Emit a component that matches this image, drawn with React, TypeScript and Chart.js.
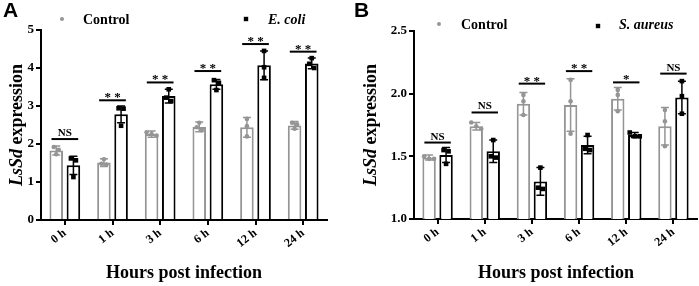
import React, { useEffect, useRef } from "react";
import { Chart, registerables } from "chart.js";
Chart.register(...registerables);

const categories = ["0 h", "1 h", "3 h", "6 h", "12 h", "24 h"];

// Panel A: Control vs E. coli
const aControlMean = [1.83, 1.51, 2.26, 2.45, 2.44, 2.49];
const aControlSD = [0.12, 0.1, 0.08, 0.13, 0.26, 0.1];
const aControlPoints = [
  [1.92, 1.85, 1.73],
  [1.6, 1.46, 1.48],
  [2.31, 2.22, 2.26],
  [2.56, 2.36, 2.44],
  [2.66, 2.2, 2.47],
  [2.56, 2.4, 2.52],
];
const aEcoliMean = [1.44, 2.78, 3.26, 3.57, 4.07, 4.12];
const aEcoliSD = [0.24, 0.22, 0.18, 0.13, 0.38, 0.14];
const aEcoliPoints = [
  [1.62, 1.13, 1.57],
  [2.93, 2.48, 2.94],
  [3.44, 3.13, 3.22],
  [3.68, 3.42, 3.61],
  [4.45, 3.74, 4.02],
  [4.26, 4.0, 4.11],
];
const aSig = ["NS", "**", "**", "**", "**", "**"];
const aSigY = [2.13, 3.15, 3.62, 3.92, 4.63, 4.43];

// Panel B: Control vs S. aureus
const bControlMean = [1.49, 1.74, 1.92, 1.91, 1.96, 1.74];
const bControlSD = [0.02, 0.03, 0.09, 0.21, 0.09, 0.15];
const bControlPoints = [
  [1.5, 1.48, 1.48],
  [1.77, 1.72, 1.74],
  [1.99, 1.83, 1.94],
  [2.11, 1.94, 1.68],
  [2.03, 1.99, 1.86],
  [1.87, 1.78, 1.58],
];
const bSaureusMean = [1.51, 1.54, 1.3, 1.59, 1.67, 1.97];
const bSaureusSD = [0.06, 0.09, 0.11, 0.07, 0.02, 0.13];
const bSaureusPoints = [
  [1.55, 1.54, 1.44],
  [1.63, 1.5, 1.49],
  [1.41, 1.25, 1.24],
  [1.67, 1.55, 1.56],
  [1.69, 1.66, 1.66],
  [2.1, 1.98, 1.84],
];
const bSig = ["NS", "NS", "**", "**", "*", "NS"];
const bSigY = [1.61, 1.85, 2.08, 2.18, 2.09, 2.16];

const GRAY = "#959595";
const BLACK = "#000000";
const SERIF = "'Liberation Serif', 'Times New Roman', serif";
const SANS = "'Liberation Sans', Arial, sans-serif";

type Spec = {
  letter: string;
  treatName: string;
  cMean: number[];
  cSD: number[];
  cPts: number[][];
  tMean: number[];
  tSD: number[];
  tPts: number[][];
  sig: string[];
  sigY: number[];
  yMin: number;
  yMax: number;
  yStep: number;
  yDecimals: number;
  width: number;
  axisLeft: number;
  padTop: number;
  padRight: number;
  xAxisHeight: number;
  legend: { dotX: number; dotY: number; ctrlX: number; sqX: number; sqY: number; treatX: number; textY: number };
  yTitle: { x: number; y: number };
  xTitle: { x: number; y: number };
  letterX: number;
};

function makePlugin(spec: Spec) {
  return {
    id: "decor" + spec.letter,
    afterDatasetsDraw(chart: any) {
      const ctx = chart.ctx as CanvasRenderingContext2D;
      const ys = chart.scales.y;
      const groups = [
        { mean: spec.cMean, sd: spec.cSD, pts: spec.cPts, color: GRAY, shape: "circle" },
        { mean: spec.tMean, sd: spec.tSD, pts: spec.tPts, color: BLACK, shape: "square" },
      ];
      groups.forEach((g, di) => {
        const meta = chart.getDatasetMeta(di);
        meta.data.forEach((bar: any, i: number) => {
          const { x } = bar.getProps(["x"], true);
          const top = ys.getPixelForValue(g.mean[i] + g.sd[i]);
          const bot = ys.getPixelForValue(g.mean[i] - g.sd[i]);
          ctx.save();
          ctx.strokeStyle = g.color;
          ctx.lineWidth = 1.5;
          ctx.beginPath();
          ctx.moveTo(x, top);
          ctx.lineTo(x, bot);
          ctx.moveTo(x - 4, top);
          ctx.lineTo(x + 4, top);
          ctx.moveTo(x - 4, bot);
          ctx.lineTo(x + 4, bot);
          ctx.stroke();
          // points with simple clustering offsets
          const py = g.pts[i].map((v) => ys.getPixelForValue(v));
          const order = py.map((p, k) => k).sort((a, b) => py[a] - py[b]);
          const clusters: number[][] = [];
          order.forEach((k) => {
            const last = clusters[clusters.length - 1];
            if (last && Math.abs(py[k] - py[last[last.length - 1]]) < 4.5) last.push(k);
            else clusters.push([k]);
          });
          ctx.fillStyle = g.color;
          clusters.forEach((cl) => {
            cl.forEach((k, j) => {
              const ox = (j - (cl.length - 1) / 2) * 5;
              const px = x + ox;
              if (g.shape === "circle") {
                ctx.beginPath();
                ctx.arc(px, py[k], 2.3, 0, Math.PI * 2);
                ctx.fill();
              } else {
                ctx.fillRect(px - 2.3, py[k] - 2.3, 4.6, 4.6);
              }
            });
          });
          ctx.restore();
        });
      });
      // significance brackets
      const m0 = chart.getDatasetMeta(0);
      const m1 = chart.getDatasetMeta(1);
      spec.sig.forEach((s, i) => {
        const b0 = m0.data[i].getProps(["x", "width"], true);
        const b1 = m1.data[i].getProps(["x", "width"], true);
        const x0 = b0.x - b0.width / 2 + 2;
        const x1 = b1.x + b1.width / 2 - 2;
        const yy = ys.getPixelForValue(spec.sigY[i]);
        ctx.save();
        ctx.strokeStyle = BLACK;
        ctx.lineWidth = 2;
        ctx.beginPath();
        ctx.moveTo(x0, yy);
        ctx.lineTo(x1, yy);
        ctx.stroke();
        ctx.fillStyle = BLACK;
        ctx.textAlign = "center";
        ctx.textBaseline = "alphabetic";
        if (s === "NS") {
          ctx.font = `bold 11px ${SERIF}`;
          ctx.fillText(s, (x0 + x1) / 2, yy - 3);
        } else {
          ctx.font = `bold 13px ${SERIF}`;
          const t = s.split("").join(" ");
          ctx.fillText(t, (x0 + x1) / 2, yy + 1);
        }
        ctx.restore();
      });
    },
    afterDraw(chart: any) {
      const ctx = chart.ctx as CanvasRenderingContext2D;
      ctx.save();
      // panel letter
      ctx.fillStyle = BLACK;
      ctx.font = `bold 21px ${SANS}`;
      ctx.textAlign = "left";
      ctx.textBaseline = "top";
      ctx.fillText(spec.letter, spec.letterX, 1);
      // legend
      const L = spec.legend;
      ctx.fillStyle = GRAY;
      ctx.beginPath();
      ctx.arc(L.dotX, L.dotY, 2, 0, Math.PI * 2);
      ctx.fill();
      ctx.fillStyle = BLACK;
      ctx.fillRect(L.sqX - 2.2, L.sqY - 2.2, 4.4, 4.4);
      ctx.textBaseline = "middle";
      ctx.font = `bold 14px ${SERIF}`;
      ctx.fillText("Control", L.ctrlX, L.textY);
      ctx.font = `italic bold 14px ${SERIF}`;
      ctx.fillText(spec.treatName, L.treatX, L.textY);
      // x title
      ctx.textAlign = "center";
      ctx.font = `bold 18px ${SERIF}`;
      ctx.fillText("Hours post infection", spec.xTitle.x, spec.xTitle.y);
      // y title (mixed fonts)
      ctx.translate(spec.yTitle.x, spec.yTitle.y);
      ctx.rotate(-Math.PI / 2);
      ctx.textAlign = "left";
      const f1 = `italic bold 18px ${SERIF}`;
      const f2 = `bold 18px ${SERIF}`;
      ctx.font = f1;
      const w1 = ctx.measureText("LsSd").width;
      ctx.font = f2;
      const w2 = ctx.measureText(" expression").width;
      const start = -(w1 + w2) / 2;
      ctx.font = f1;
      ctx.fillText("LsSd", start, 0);
      ctx.font = f2;
      ctx.fillText(" expression", start + w1, 0);
      ctx.restore();
    },
  };
}

function buildConfig(spec: Spec): any {
  const tickFont = { family: SERIF, weight: "bold" as const, size: 13 };
  return {
    type: "bar",
    data: {
      labels: categories,
      datasets: [
        {
          label: "Control",
          data: spec.cMean,
          backgroundColor: "#ffffff",
          borderColor: GRAY,
          borderWidth: 2,
        },
        {
          label: spec.treatName,
          data: spec.tMean,
          backgroundColor: "#ffffff",
          borderColor: BLACK,
          borderWidth: 2,
        },
      ],
    },
    options: {
      responsive: false,
      animation: false,
      devicePixelRatio: 1,
      layout: { padding: { top: spec.padTop, right: spec.padRight, left: 0, bottom: 0 } },
      plugins: { legend: { display: false }, tooltip: { enabled: false }, title: { display: false } },
      datasets: { bar: { categoryPercentage: 0.72, barPercentage: 0.79 } },
      scales: {
        x: {
          grid: { display: true, drawOnChartArea: false, offset: false, tickLength: 5, color: BLACK, lineWidth: 2 },
          border: { display: true, color: BLACK, width: 2 },
          ticks: { font: { family: SERIF, weight: "bold", size: 12 }, color: BLACK, minRotation: 38, maxRotation: 38, padding: 1 },
          afterFit(s: any) {
            s.height = spec.xAxisHeight;
          },
        },
        y: {
          min: spec.yMin,
          max: spec.yMax,
          grid: { display: true, drawOnChartArea: false, tickLength: 5, color: BLACK, lineWidth: 2 },
          border: { display: true, color: BLACK, width: 2 },
          ticks: {
            stepSize: spec.yStep,
            font: tickFont,
            color: BLACK,
            padding: 2,
            callback: (v: any) => Number(v).toFixed(spec.yDecimals),
          },
          afterFit(s: any) {
            s.width = spec.axisLeft;
          },
        },
      },
    },
    plugins: [makePlugin(spec)],
  };
}

const specA: Spec = {
  letter: "A",
  treatName: "E. coli",
  cMean: aControlMean,
  cSD: aControlSD,
  cPts: aControlPoints,
  tMean: aEcoliMean,
  tSD: aEcoliSD,
  tPts: aEcoliPoints,
  sig: aSig,
  sigY: aSigY,
  yMin: 0,
  yMax: 5,
  yStep: 1,
  yDecimals: 0,
  width: 350,
  axisLeft: 41,
  padTop: 30,
  padRight: 23,
  xAxisHeight: 66,
  legend: { dotX: 62, dotY: 19, ctrlX: 83, sqX: 246, sqY: 19, treatX: 268, textY: 20 },
  yTitle: { x: 17, y: 125 },
  xTitle: { x: 184, y: 273 },
  letterX: 3,
};

const specB: Spec = {
  letter: "B",
  treatName: "S. aureus",
  cMean: bControlMean,
  cSD: bControlSD,
  cPts: bControlPoints,
  tMean: bSaureusMean,
  tSD: bSaureusSD,
  tPts: bSaureusPoints,
  sig: bSig,
  sigY: bSigY,
  yMin: 1,
  yMax: 2.5,
  yStep: 0.5,
  yDecimals: 1,
  width: 349,
  axisLeft: 64,
  padTop: 31,
  padRight: 2,
  xAxisHeight: 67,
  legend: { dotX: 89, dotY: 24, ctrlX: 111, sqX: 248, sqY: 26, treatX: 269, textY: 25 },
  yTitle: { x: 21, y: 125 },
  xTitle: { x: 206, y: 273 },
  letterX: 4,
};

function Panel({ spec, left }: { spec: Spec; left: number }) {
  const ref = useRef<HTMLCanvasElement | null>(null);
  useEffect(() => {
    if (!ref.current) return;
    const chart = new Chart(ref.current, buildConfig(spec));
    return () => chart.destroy();
  }, [spec]);
  return (
    <canvas
      ref={ref}
      width={spec.width}
      height={286}
      style={{ position: "absolute", left, top: 0, width: spec.width, height: 286, display: "block" }}
    />
  );
}

export default function App() {
  return (
    <div style={{ position: "absolute", left: 0, top: 0, width: 699, height: 286, background: "#ffffff" }}>
      <Panel spec={specA} left={0} />
      <Panel spec={specB} left={350} />
    </div>
  );
}
